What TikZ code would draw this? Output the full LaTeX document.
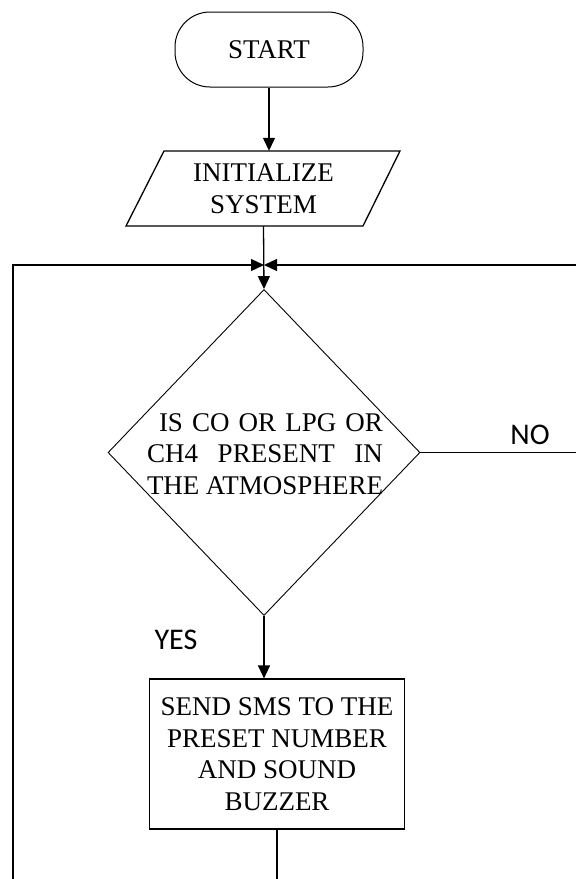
\documentclass[tikz,border=0pt]{standalone}
\usepackage{fontspec}
\setmainfont{Liberation Serif}
\newfontfamily\sansf{Carlito}
\usetikzlibrary{arrows.meta,shapes.geometric}
\begin{document}
\begin{tikzpicture}[x=1pt,y=-1pt,
  line/.style={line width=1.3pt},
  arr/.style={line width=1.3pt,-{Triangle[length=13pt,width=12pt]}},
  lbl/.style={font=\fontsize{27}{31.5}\selectfont, align=center},
  yn/.style={font=\sansf\fontsize{30}{32}\selectfont, inner sep=0}
]
\clip (0,0) rectangle (576,879);
% nodes
\node[draw, line width=1pt, rounded corners=35pt, minimum width=188pt, minimum height=75pt, lbl] (start) at (269,49.5) {START};
\draw[line] (164,151) -- (400,151) -- (363,226) -- (126,226) -- cycle;
\node[lbl, minimum height=75pt, inner sep=0] (init) at (263.5,188.5) {INITIALIZE\\SYSTEM};
\node[diamond, draw, line width=0.9pt, minimum width=312pt, minimum height=326pt, inner sep=0] (dec) at (264,452.5) {};
\node[lbl, align=left, inner sep=0] (dectext) at (265,454) {\hspace*{12pt}\makebox[224pt][s]{IS CO OR LPG OR}\\\makebox[236pt][s]{CH4 PRESENT IN}\\\makebox[236pt][s]{THE ATMOSPHERE}};
\node[draw, line width=1.2pt, minimum width=255pt, minimum height=150pt, lbl] (act) at (277,754) {SEND SMS TO THE\\PRESET NUMBER\\AND SOUND\\BUZZER};
\node[yn] (no) at (530,435) {NO};
\node[yn] (yes) at (176,640) {YES};
% coordinates
\coordinate (J) at (264,265);
\coordinate (loopL) at (13,879);
\coordinate (loopR) at (576,265);
\coordinate (noend) at (576,452.5);
\coordinate (actend) at (277,879);
% connectors
\draw[arr] (start.south) -- (start.south |- init.north);
\draw[arr] (init.south) -- (dec.north);
\draw[line] (dec.east) -- (noend);
\draw[arr] (loopR) -- (J);
\draw[arr] (loopL) |- (J);
\draw[arr] (dec.south) -- (dec.south |- act.north);
\draw[line] (act.south) -- (actend);
\end{tikzpicture}
\end{document}
